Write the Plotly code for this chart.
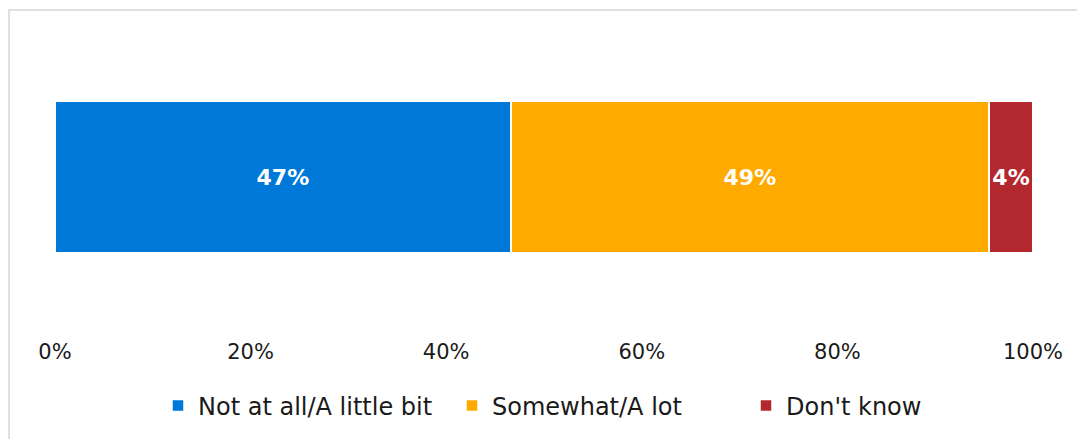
import plotly.graph_objects as go

categories = ["All"]
series_names = ["Not at all/A little bit", "Somewhat/A lot", "Don't know"]
series_values = [46.6, 48.9, 4.5]
series_labels = ["47%", "49%", "4%"]
series_colors = ["#0078d7", "#ffaa00", "#b3282e"]
tick_values = [0, 20, 40, 60, 80, 100]
tick_labels = ["0%", "20%", "40%", "60%", "80%", "100%"]

FONT = "DejaVu Sans"

fig = go.Figure()
for name, val, lab, col in zip(series_names, series_values, series_labels, series_colors):
    fig.add_trace(go.Bar(
        y=categories, x=[val], name=name, orientation="h",
        marker=dict(color=col, line=dict(color="white", width=1.5)),
        text=[lab], textposition="inside", insidetextanchor="middle",
        textfont=dict(family=FONT, size=22, color="white", weight="bold"),
        textangle=0, hoverinfo="skip",
    ))

# page body adds an 8px offset; figure coordinates below are page coords - 8
W, H = 1085, 439
l, r, t, b = 47, 60, 16, 117
pw, ph = W - l - r, H - t - b

def px(x):
    return (x - l) / pw

def py(y):
    return 1 - (y - t) / ph

fig.add_shape(type="path", xref="paper", yref="paper",
              path=f"M {px(1)} {py(460)} L {px(1)} {py(2)} L {px(1200)} {py(2)}",
              line=dict(color="#e0e0e0", width=2))

fig.update_layout(
    width=W, height=H, barmode="stack", bargap=0.503,
    margin=dict(l=l, r=r, t=t, b=b),
    plot_bgcolor="white", paper_bgcolor="white",
    font=dict(family=FONT, size=21, color="#1a1a1a"),
    xaxis=dict(range=[0, 100], tickvals=tick_values, ticktext=tick_labels,
               showgrid=False, zeroline=False, showline=False, ticks="",
               ticklabelstandoff=7,
               tickfont=dict(family=FONT, size=21, color="#1a1a1a"), fixedrange=True),
    yaxis=dict(showticklabels=False, showgrid=False, zeroline=False, showline=False,
               range=[-0.5, 0.5], fixedrange=True),
    legend=dict(orientation="h", x=px(150), xanchor="left", y=py(398), yanchor="middle",
                font=dict(family=FONT, size=24, color="#1a1a1a"),
                itemwidth=30, entrywidth=249, traceorder="normal"),
    showlegend=True,
)

fig.write_html("out.html")
